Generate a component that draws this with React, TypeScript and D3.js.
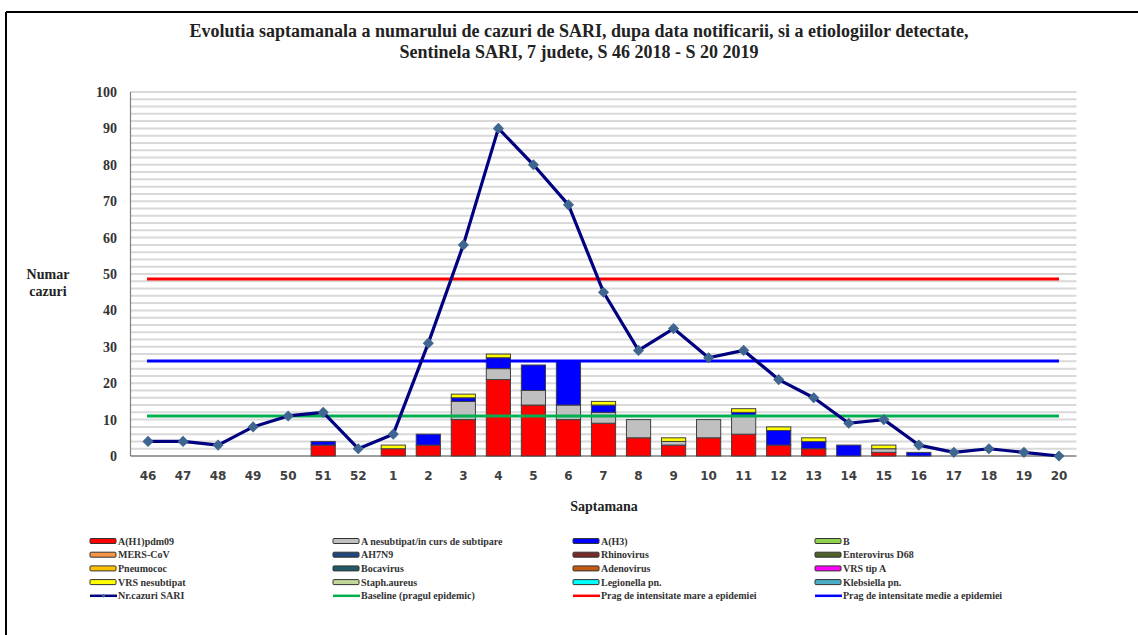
import { useMemo } from 'react'
import * as d3 from 'd3'

const weeks = ['46', '47', '48', '49', '50', '51', '52', '1', '2', '3', '4', '5', '6', '7', '8', '9', '10', '11', '12', '13', '14', '15', '16', '17', '18', '19', '20']

// etiologies per week (stacked bars)
const ah1pdm09 = [0, 0, 0, 0, 0, 3, 0, 2, 3, 10, 21, 14, 10, 9, 5, 3, 5, 6, 3, 2, 0, 1, 0, 0, 0, 0, 0]
const aNesubtipat = [0, 0, 0, 0, 0, 0, 0, 0, 0, 5, 3, 4, 4, 3, 5, 1, 5, 5, 0, 0, 0, 1, 0, 0, 0, 0, 0]
const ah3 = [0, 0, 0, 0, 0, 1, 0, 0, 3, 1, 3, 7, 12, 2, 0, 0, 0, 1, 4, 2, 3, 0, 1, 0, 0, 0, 0]
const vrsNesubtipat = [0, 0, 0, 0, 0, 0, 0, 1, 0, 1, 1, 0, 0, 1, 0, 1, 0, 1, 1, 1, 0, 1, 0, 0, 0, 0, 0]

// total SARI cases
const sariCases = [4, 4, 3, 8, 11, 12, 2, 6, 31, 58, 90, 80, 69, 45, 29, 35, 27, 29, 21, 16, 9, 10, 3, 1, 2, 1, 0]

const baseline = 11
const pragMediu = 26.1
const pragMare = 48.6

const yTicks = [0, 10, 20, 30, 40, 50, 60, 70, 80, 90, 100]

const legendItems = [
  { label: 'A(H1)pdm09', color: '#ff0000', kind: 'bar' },
  { label: 'A nesubtipat/in curs de subtipare', color: '#c0c0c0', kind: 'bar' },
  { label: 'A(H3)', color: '#0000ff', kind: 'bar' },
  { label: 'B', color: '#92d050', kind: 'bar' },
  { label: 'MERS-CoV', color: '#f79646', kind: 'bar' },
  { label: 'AH7N9', color: '#1f497d', kind: 'bar' },
  { label: 'Rhinovirus', color: '#772c2a', kind: 'bar' },
  { label: 'Enterovirus D68', color: '#4f6228', kind: 'bar' },
  { label: 'Pneumococ', color: '#ffc000', kind: 'bar' },
  { label: 'Bocavirus', color: '#215968', kind: 'bar' },
  { label: 'Adenovirus', color: '#c55a11', kind: 'bar' },
  { label: 'VRS tip A', color: '#ff00ff', kind: 'bar' },
  { label: 'VRS nesubtipat', color: '#ffff00', kind: 'bar' },
  { label: 'Staph.aureus', color: '#c4d79b', kind: 'bar' },
  { label: 'Legionella pn.', color: '#00ffff', kind: 'bar' },
  { label: 'Klebsiella pn.', color: '#4bacc6', kind: 'bar' },
  { label: 'Nr.cazuri SARI', color: '#000080', kind: 'marker' },
  { label: 'Baseline (pragul epidemic)', color: '#00b050', kind: 'line' },
  { label: 'Prag de intensitate mare a epidemiei', color: '#ff0000', kind: 'line' },
  { label: 'Prag de intensitate medie a epidemiei', color: '#0000ff', kind: 'line' },
]

const serif = { fontFamily: "'Liberation Serif', 'Times New Roman', serif" }
const sans = { fontFamily: "'DejaVu Sans', Verdana, sans-serif" }

export default function App() {
  const width = 1138
  const height = 635
  const plot = { left: 130.5, right: 1076.5, top: 92, bottom: 456 }

  const x = d3.scaleBand<string>().domain(weeks).range([plot.left, plot.right]).paddingInner(0.31).paddingOuter(0.155)
  const xc = (w: string) => (x(w) as number) + x.bandwidth() / 2
  const y = d3.scaleLinear().domain([0, 100]).range([plot.bottom, plot.top])

  const stacked = useMemo(() => {
    const rows = weeks.map((w, i) => ({
      week: w,
      h1: ah1pdm09[i],
      nes: aNesubtipat[i],
      h3: ah3[i],
      vrs: vrsNesubtipat[i],
    }))
    return d3.stack<any>().keys(['h1', 'nes', 'h3', 'vrs'])(rows)
  }, [])
  const stackColors: Record<string, string> = { h1: '#ff0000', nes: '#c0c0c0', h3: '#0000ff', vrs: '#ffff00' }

  const line = d3.line<number>().x((_d, i) => xc(weeks[i])).y(d => y(d))
  const gridVals = d3.range(2, 101, 2)
  const x0 = xc(weeks[0]) - 1
  const x1 = xc(weeks[weeks.length - 1])

  const legendCols = [90, 333, 573, 815]
  const legendRow0 = 541
  const legendRowStep = 13.7

  // square rotated 45 deg -> wide diamond like Excel markers
  const diamond = d3.symbol().type(d3.symbolSquare).size(62)()

  return (
    <svg width={width} height={height} style={{ position: 'absolute', left: 0, top: 0, background: '#fff' }}>
      {/* frame */}
      <line x1={6} y1={12} x2={width} y2={12} stroke="#000" strokeWidth={2} />
      <line x1={6} y1={12} x2={6} y2={height} stroke="#000" strokeWidth={2} />

      {/* title */}
      <text x={579} y={37} textAnchor="middle" style={serif} fontWeight="bold" fontSize={18} fill="#222">
        Evolutia saptamanala a numarului  de cazuri de SARI, dupa data notificarii, si a etiologiilor detectate,
      </text>
      <text x={579} y={58} textAnchor="middle" style={serif} fontWeight="bold" fontSize={18} fill="#222">
        Sentinela SARI, 7 judete, S 46 2018 - S 20 2019
      </text>

      {/* gridlines */}
      {gridVals.map(v => (
        <line key={v} x1={plot.left} x2={plot.right} y1={y(v)} y2={y(v)} stroke="#d9d9d9" strokeWidth={2} />
      ))}

      {/* axes */}
      <line x1={plot.left} x2={plot.left} y1={plot.top} y2={plot.bottom} stroke="#808080" strokeWidth={1.2} />
      <line x1={plot.left} x2={plot.right} y1={plot.bottom} y2={plot.bottom} stroke="#404040" strokeWidth={1.2} />

      {yTicks.map(t => (
        <text key={t} x={117} y={y(t)} dy="0.35em" textAnchor="end" style={serif} fontWeight="bold" fontSize={14} fill="#333">
          {t}
        </text>
      ))}
      {weeks.map(w => (
        <text key={w} x={xc(w)} y={476} dy="0.35em" textAnchor="middle" style={sans} fontWeight="bold" fontSize={12} fill="#404040">
          {w}
        </text>
      ))}

      <text x={48} y={279} textAnchor="middle" style={serif} fontWeight="bold" fontSize={14} fill="#222">Numar</text>
      <text x={48} y={296} textAnchor="middle" style={serif} fontWeight="bold" fontSize={14} fill="#222">cazuri</text>
      <text x={604} y={511} textAnchor="middle" style={serif} fontWeight="bold" fontSize={14} fill="#222">Saptamana</text>

      {/* stacked bars */}
      {stacked.map(s => (
        <g key={s.key} fill={stackColors[s.key]}>
          {s.map((d: any, i: number) =>
            d[1] - d[0] > 0 ? (
              <rect key={i} x={x(weeks[i])} y={y(d[1])} width={x.bandwidth()} height={y(d[0]) - y(d[1])} stroke="#404040" strokeWidth={1} />
            ) : null
          )}
        </g>
      ))}

      {/* thresholds */}
      <line x1={x0} x2={x1} y1={y(pragMare)} y2={y(pragMare)} stroke="#ff0000" strokeWidth={3} />
      <line x1={x0} x2={x1} y1={y(pragMediu)} y2={y(pragMediu)} stroke="#0000ff" strokeWidth={3} />
      <line x1={x0} x2={x1} y1={y(baseline)} y2={y(baseline)} stroke="#00b050" strokeWidth={3} />

      {/* SARI line */}
      <path d={line(sariCases) || ''} fill="none" stroke="#000080" strokeWidth={3.2} strokeLinejoin="round" />
      {sariCases.map((v, i) => (
        <path key={i} d={diamond || ''} transform={`translate(${xc(weeks[i])},${y(v)}) rotate(45)`} fill="#3f6690" />
      ))}

      {/* legend */}
      {legendItems.map((it, i) => {
        const col = i % 4
        const row = Math.floor(i / 4)
        const lx = legendCols[col]
        const ly = legendRow0 + row * legendRowStep
        return (
          <g key={it.label} transform={`translate(${lx},${ly})`}>
            {it.kind === 'bar' ? (
              <rect x={0} y={-2.5} width={26} height={5} fill={it.color} stroke="#333" strokeWidth={1} rx={1} />
            ) : (
              <line x1={0} x2={27} y1={0} y2={0} stroke={it.color} strokeWidth={2.5} />
            )}
            {it.kind === 'marker' ? (
              <path d={d3.symbol().type(d3.symbolSquare).size(8)() || ''} transform="translate(13.5,0) rotate(45)" fill="#3f6690" />
            ) : null}
            <text x={28} y={0} dy="0.35em" style={serif} fontWeight="bold" fontSize={10} fill="#333">
              {it.label}
            </text>
          </g>
        )
      })}
    </svg>
  )
}
